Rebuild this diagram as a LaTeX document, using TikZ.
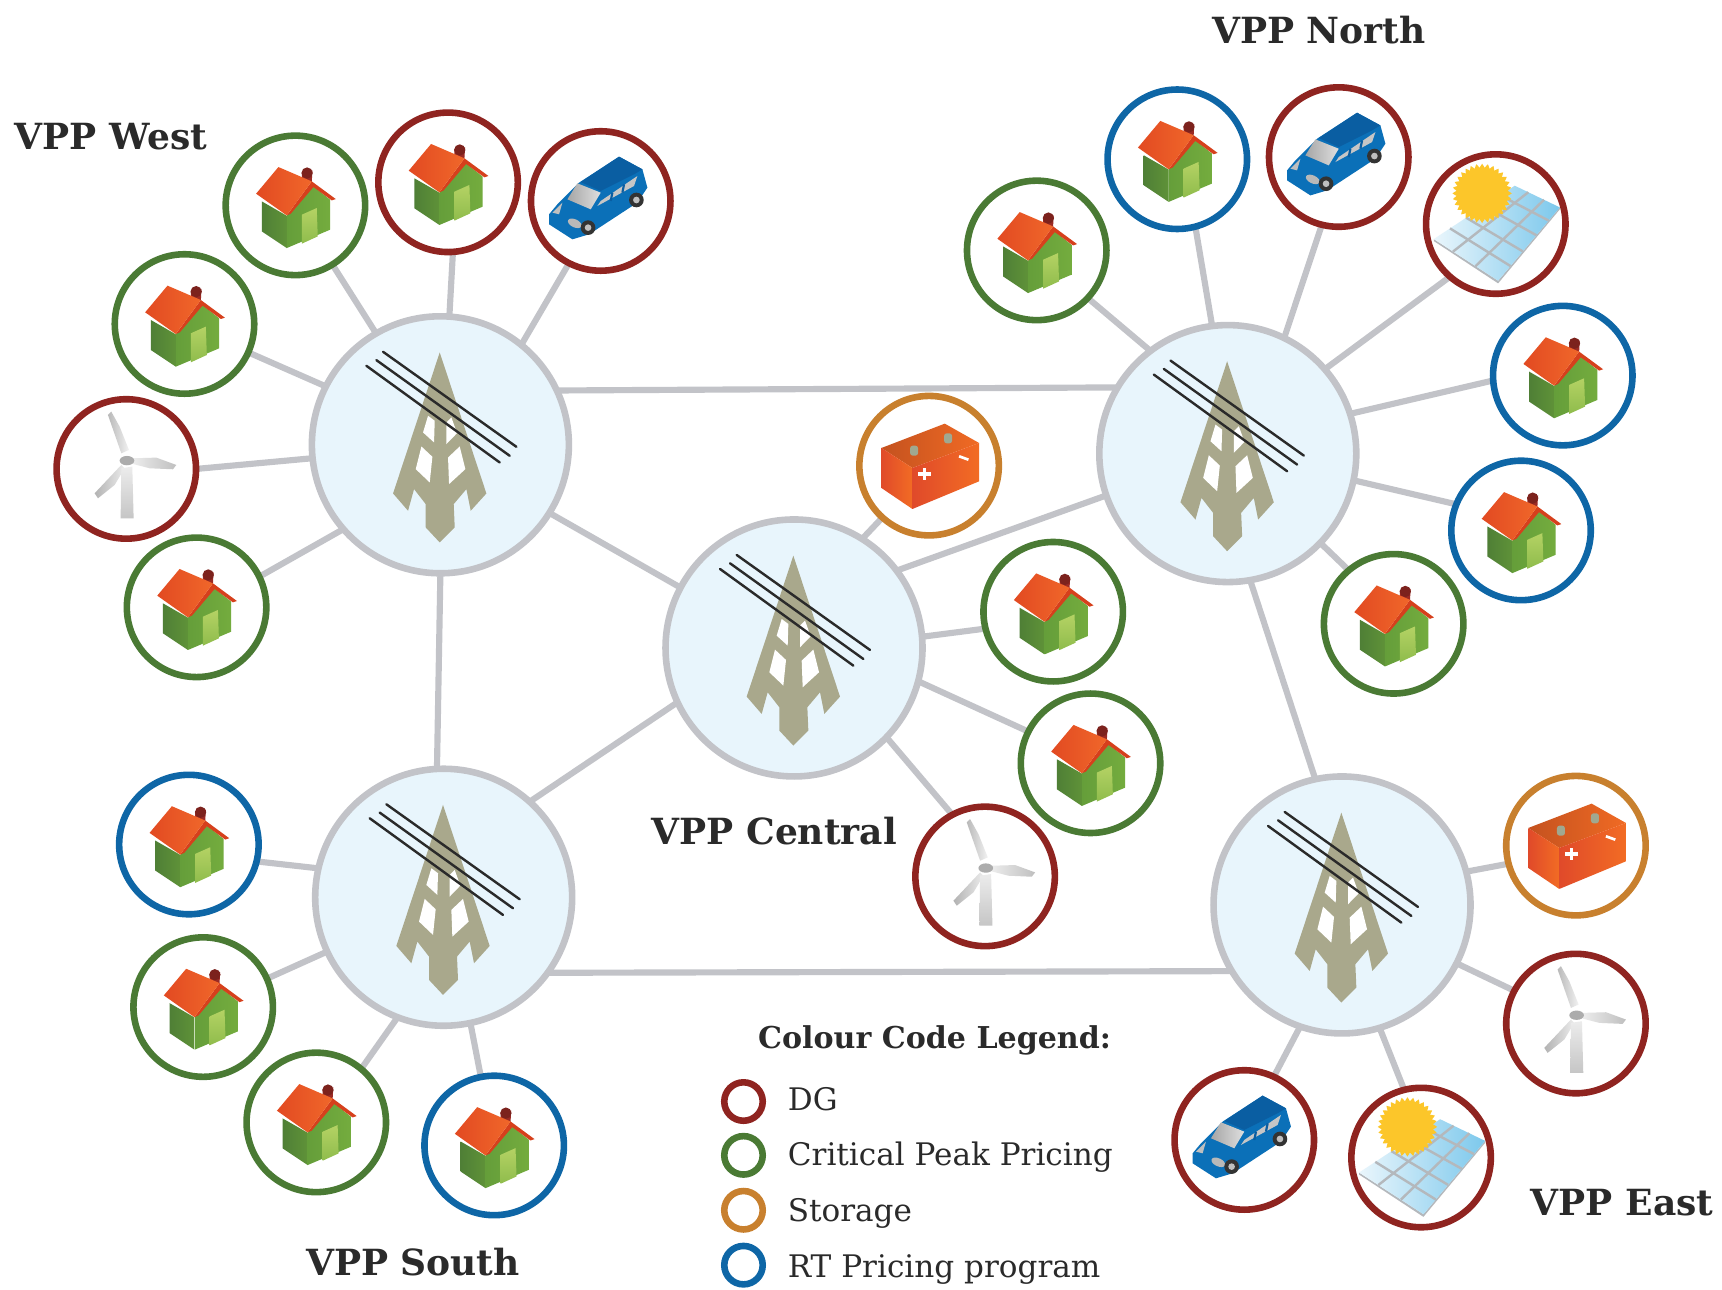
\documentclass[tikz,border=0pt]{standalone}
\usepackage{fontspec}
\setmainfont{DejaVu Serif}
\usetikzlibrary{backgrounds,calc}
\definecolor{cRed}{HTML}{8F2420}
\definecolor{cGreen}{HTML}{4A7A34}
\definecolor{cOrange}{HTML}{C8802E}
\definecolor{cBlue}{HTML}{0E66A6}
\definecolor{cRing}{HTML}{C2C3C8}
\definecolor{cHub}{HTML}{E8F5FC}
\definecolor{cTower}{HTML}{A9A88C}
\definecolor{cInk}{HTML}{2A2A2A}
\definecolor{wallL}{HTML}{4F7F36}
\definecolor{wallLb}{HTML}{5F9238}
\definecolor{wallR}{HTML}{659E3A}
\definecolor{wallRb}{HTML}{74AC3E}
\definecolor{doorA}{HTML}{B4D264}
\definecolor{doorB}{HTML}{8FBC4C}
\definecolor{roofA}{HTML}{E24A22}
\definecolor{roofB}{HTML}{F0672A}
\definecolor{roofC}{HTML}{D6401C}
\definecolor{chim}{HTML}{9B2A24}
\definecolor{carBody}{HTML}{0B70B8}
\definecolor{carRoof}{HTML}{0A5EA2}
\definecolor{panelA}{HTML}{EAF6FC}
\definecolor{panelB}{HTML}{7CC8EC}
\definecolor{panelLine}{HTML}{B4B8BC}
\definecolor{sunC}{HTML}{FCC62A}
\definecolor{batA}{HTML}{C4521F}
\definecolor{batB}{HTML}{F06A24}
\definecolor{batC}{HTML}{E04A2A}
\definecolor{batD}{HTML}{F26C24}
\definecolor{termC}{HTML}{A0A890}
\tikzset{
  x=0.5pt,y=-0.5pt,
  hubnode/.style={circle,draw=cRing,line width=3pt,fill=cHub,minimum size=117pt,inner sep=0pt,outer sep=0pt},
  satnode/.style={circle,line width=3pt,fill=white,minimum size=63.5pt,inner sep=0pt,outer sep=0pt},
  keynode/.style={circle,line width=3pt,minimum size=17.5pt,inner sep=0pt,outer sep=0pt},
  link/.style={draw=cRing,line width=2.8pt},
  vpplabel/.style={font=\bfseries\fontsize{16.4}{18}\selectfont,text=cInk,inner sep=0pt},
  legendtitle/.style={font=\bfseries\fontsize{13.7}{15}\selectfont,text=cInk,inner sep=0pt,anchor=base},
  legendtext/.style={font=\fontsize{14.15}{16}\selectfont,text=cInk,inner sep=0pt,anchor=base west},
  icon/.style={scale=0.3035},
  pics/tower/.style={code={
    \fill[cTower] (-2,-277)--(138,146)--(91,198)--(78,133)--(40,178)--(43,248)--(-2,293)--(-44,248)--(-44,178)--(-79,133)--(-97,198)--(-142,146)--cycle;
    \fill[white] (-37,-87)--(-17,-72)--(-19,-7)--(-52,-37)--cycle;
    \fill[white] (33,-82)--(50,-35)--(18,-2)--(18,-67)--cycle;
    \fill[white] (-57,5)--(-24,36)--(-32,113)--(-74,73)--cycle;
    \fill[white] (58,5)--(75,73)--(26,118)--(23,38)--cycle;
    \draw[cInk,line width=1.1pt,line cap=round] (-222,-237)--(178,53);
    \draw[cInk,line width=1.1pt,line cap=round] (-192,-254)--(208,33);
    \draw[cInk,line width=1.1pt,line cap=round] (-172,-279)--(228,6);
  }},
  pics/house/.style={code={
    \shade[left color=wallL,right color=wallLb] (-101,-12)--(-26,31)--(-26,128)--(-101,78)--cycle;
    \shade[left color=wallR,right color=wallRb] (-26,31)--(54,-57)--(104,-17)--(104,73)--(-26,128)--cycle;
    \shade[top color=doorA,bottom color=doorB] (19,28)--(64,8)--(67,93)--(19,115)--cycle;
    \fill[chim] (19,-100)--(51,-105)--(49,-70)--(19,-80)--cycle;
    \fill[chim!80!black] (35,-97) circle (17);
    \fill[roofC] (49,-72)--(121,-19)--(109,-15)--(54,-55)--(-14,25)--(-26,30)--cycle;
    \shade[left color=roofA,right color=roofB] (-118,-35)--(-51,-115)--(49,-72)--(-26,30)--cycle;
  }},
  pics/car/.style={code={
    \fill[carBody] (-155,40)--(-130,10)--(-65,-55)--(55,-133)--(125,-95)--(140,-40)--(110,5)--(-35,100)--(-85,115)--(-155,70)--cycle;
    \fill[carRoof] (-60,-57)--(55,-133)--(125,-95)--(100,-80)--(0,-30)--cycle;
    \shade[left color=gray!70,right color=gray!25] (-100,-5)--(-70,-53)--(0,-25)--(-30,25)--cycle;
    \fill[gray!45] (0,0)--(110,-75)--(100,-45)--(-10,15)--cycle;
    \draw[carRoof,line width=1pt] (35,-25)--(30,0) (70,-50)--(65,-25);
    \fill[gray!55,rotate around={-25:(-78,67)}] (-78,67) ellipse (22 and 12);
    \fill[gray!50] (-145,35)--(-115,5)--(-125,40)--cycle;
    \fill[black!80] (-38,80) circle (22);
    \fill[gray!50] (-38,80) circle (10);
    \fill[black!80] (107,-3) circle (22);
    \fill[gray!50] (107,-3) circle (10);
  }},
  pics/solar/.style={code={
    \coordinate (pa) at (-186,45); \coordinate (pb) at (57,-115);
    \coordinate (pc) at (192,-50); \coordinate (pd) at (7,170);
    \fill[panelLine] (pa)--(pd)--(pc)--($(pc)+(0,6)$)--($(pd)+(0,8)$)--($(pa)+(0,6)$)--cycle;
    \shade[left color=panelA,right color=panelB] (pa)--(pb)--(pc)--(pd)--cycle;
    \foreach \f in {0.2,0.4,0.62,0.82}{
      \draw[panelLine,line width=1.1pt] ($(pa)!\f!(pb)$)--($(pd)!\f!(pc)$);}
    \foreach \f in {0.3,0.65}{
      \draw[panelLine,line width=1.1pt] ($(pa)!\f!(pd)$)--($(pb)!\f!(pc)$);}
    \fill[sunC,shift={(-41,-92)}] plot[domain=0:360,samples=129] (\x:{83+6*cos(32*\x)})--cycle;
  }},
  pics/turbine/.style={code={
    \shade[left color=gray!55,right color=gray!10] (-15,-47)--(-55,-162)--(-45,-172)--(-20,-127)--(8,-57)--cycle;
    \shade[left color=gray!15,right color=gray!50] (20,-32)--(90,-34)--(150,-12)--(140,1)--(70,-2)--(20,-15)--cycle;
    \shade[left color=gray!60,right color=gray!15] (-15,-12)--(-95,73)--(-85,88)--(-35,48)--(-5,-2)--cycle;
    \shade[top color=gray!15,bottom color=gray!45] (-15,-2)--(-17,148)--(22,148)--(18,-7)--cycle;
    \fill[gray!65] (2,-25) ellipse (22 and 14);
  }},
  pics/battery/.style={code={
    \shade[left color=batA,right color=batB] (-143,-53)--(47,-126)--(150,-68)--(-50,7)--cycle;
    \shade[left color=batC,right color=batD] (-143,-53)--(-50,7)--(-50,130)--(-143,67)--cycle;
    \shade[left color=batC,right color=batD] (-50,7)--(150,-68)--(150,47)--(-50,130)--cycle;
    \fill[termC,rounded corners=1.2pt] (-57,-60) rectangle (-33,-30);
    \fill[termC,rounded corners=1.2pt] (45,-97) rectangle (69,-67);
    \fill[white] (-32,20) rectangle (6,30);
    \fill[white] (-18,8) rectangle (-8,42);
    \fill[white,rotate around={-20:(104,-23)}] (89,-27) rectangle (119,-19);
  }},
}
\newcommand{\mkhub}[3]{%
  \node[hubnode] (#1) at (#2,#3) {};
  \pic[icon] at (#1) {tower};}
\newcommand{\mksat}[5]{%
  \node[satnode,draw=#4] (#1) at (#2,#3) {};
  \pic[icon] at (#1) {#5};}
\begin{document}
\begin{tikzpicture}
\useasboundingbox (0,0) rectangle (1568,1174);
\mkhub{W}{401}{405}
\mkhub{N}{1118}{413}
\mkhub{C}{723}{590}
\mkhub{S}{404}{817}
\mkhub{E}{1222}{824}
% West
\mksat{w1}{269}{187}{cGreen}{house}
\mksat{w2}{408}{166}{cRed}{house}
\mksat{w3}{547}{183}{cRed}{car}
\mksat{w4}{168}{295}{cGreen}{house}
\mksat{w5}{115}{427}{cRed}{turbine}
\mksat{w6}{179}{553}{cGreen}{house}
% North
\mksat{n1}{944}{228}{cGreen}{house}
\mksat{n2}{1072}{145}{cBlue}{house}
\mksat{n3}{1219}{143}{cRed}{car}
\mksat{n4}{1362}{204}{cRed}{solar}
\mksat{n5}{1423}{342}{cBlue}{house}
\mksat{n6}{1385}{483}{cBlue}{house}
\mksat{n7}{1269}{568}{cGreen}{house}
% Central
\mksat{c1}{846}{424}{cOrange}{battery}
\mksat{c2}{959}{557}{cGreen}{house}
\mksat{c3}{993}{695}{cGreen}{house}
\mksat{c4}{897}{798}{cRed}{turbine}
% South
\mksat{s1}{172}{769}{cBlue}{house}
\mksat{s2}{185}{917}{cGreen}{house}
\mksat{s3}{288}{1022}{cGreen}{house}
\mksat{s4}{450}{1043}{cBlue}{house}
% East
\mksat{e1}{1435}{770}{cOrange}{battery}
\mksat{e2}{1435}{932}{cRed}{turbine}
\mksat{e3}{1133}{1038}{cRed}{car}
\mksat{e4}{1294}{1054}{cRed}{solar}
\begin{scope}[on background layer]
  \foreach \h/\ha/\s/\sa in {
      W/120/w1/-58, W/86/w2/-86, W/51/w3/243, W/153/w4/-24, W/186/w5/0, W/221/w6/26,
      N/127/n1/-43, N/97/n2/-75, N/64/n3/-104, N/41/n4/229, N/18/n5/184, N/-12/n6/158, N/-44/n7/130,
      C/58/c1/228, C/5/c2/194, C/-15/c3/153, C/-44/c4/118,
      S/167/s1/-14, S/205/s2/24, S/249/s3/50, S/-78/s4/101,
      E/15/e1/195, E/-27/e2/152, E/251/e3/65, E/-73/e4/104}{
    \draw[link] (\h.\ha) -- (\s.\sa);
  }
  \draw[link] (W.25) -- (N.149);
  \draw[link] (W.-32) -- (C.152);
  \draw[link] (W.-90) -- (S.93);
  \draw[link] (C.37) -- (N.199);
  \draw[link] (C.205) -- (S.48);
  \draw[link] (N.-80) -- (E.102);
  \draw[link] (S.-36) -- (E.211);
\end{scope}
\node[vpplabel] (lN) at (1201,27) {VPP North};
\node[vpplabel] (lW) at (101,124) {VPP West};
\node[vpplabel] (lC) at (705,757) {VPP Central};
\node[vpplabel] (lS) at (376,1149) {VPP South};
\node[vpplabel] (lE) at (1477,1095) {VPP East};
\node[legendtitle] (lt) at (851,955) {Colour Code Legend:};
\node[keynode,draw=cRed] (k1) at (677,1003) {};
\node[keynode,draw=cGreen] (k2) at (677,1052) {};
\node[keynode,draw=cOrange] (k3) at (677,1102) {};
\node[keynode,draw=cBlue] (k4) at (677,1152) {};
\node[legendtext] (t1) at (717,1011) {DG};
\node[legendtext] (t2) at (717,1061) {Critical Peak Pricing};
\node[legendtext] (t3) at (717,1112) {Storage};
\node[legendtext] (t4) at (717,1163) {RT Pricing program};
\end{tikzpicture}
\end{document}
